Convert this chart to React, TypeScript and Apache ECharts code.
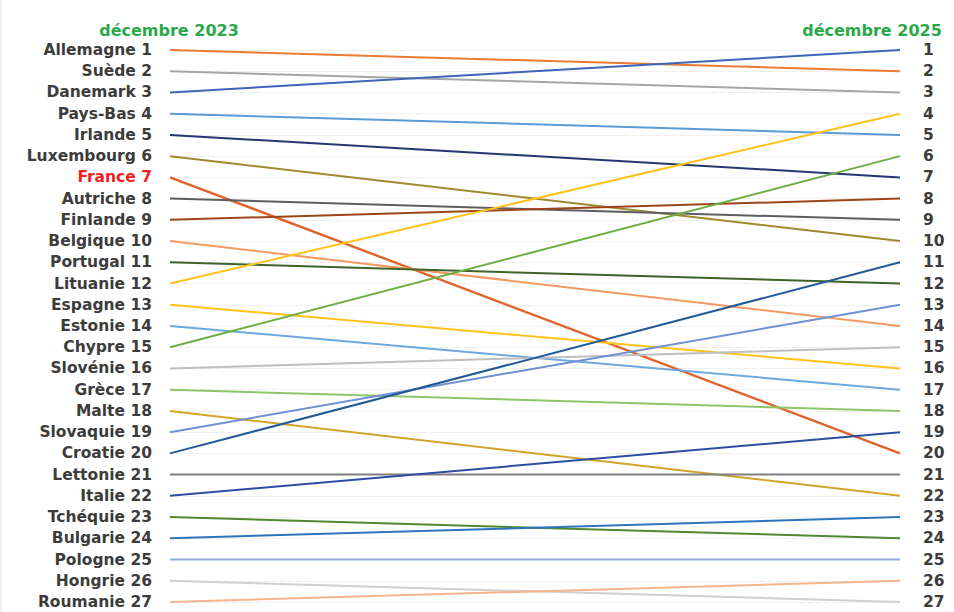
import React, { useEffect, useRef } from "react";
import * as echarts from "echarts";

const countries = [
  "Allemagne", "Suède", "Danemark", "Pays-Bas", "Irlande", "Luxembourg", "France",
  "Autriche", "Finlande", "Belgique", "Portugal", "Lituanie", "Espagne", "Estonie",
  "Chypre", "Slovénie", "Grèce", "Malte", "Slovaquie", "Croatie", "Lettonie",
  "Italie", "Tchéquie", "Bulgarie", "Pologne", "Hongrie", "Roumanie",
];
const rank2023 = [1, 2, 3, 4, 5, 6, 7, 8, 9, 10, 11, 12, 13, 14, 15, 16, 17, 18, 19, 20, 21, 22, 23, 24, 25, 26, 27];
const rank2025 = [2, 3, 1, 5, 7, 10, 20, 9, 8, 14, 12, 4, 16, 17, 6, 15, 18, 22, 13, 11, 21, 19, 24, 23, 25, 27, 26];
const lineColors = [
  "#EB7A34", "#A6A6A6", "#3F64B8", "#5B9BD5", "#22386E", "#A08A30", "#E0632C",
  "#5E5E5E", "#9C4519", "#F29A62", "#3F6329", "#FFC21A", "#FFC21A", "#6FA8DC",
  "#6DAE45", "#BFBFBF", "#8DC66A", "#D2A42C", "#6F91D4", "#245B95", "#7F7F7F",
  "#2D4DA2", "#4F8732", "#2E74BA", "#8FAADC", "#CFCFCF", "#F6B48C",
];
const periods = ["décembre 2023", "décembre 2025"];
const highlight = "France";

export default function App() {
  const ref = useRef<HTMLDivElement>(null);
  useEffect(() => {
    if (!ref.current) return;
    const chart = echarts.init(ref.current, null, { renderer: "svg" });
    const font = "'DejaVu Sans', Verdana, sans-serif";
    const fs = 15.5;
    const series = countries.map((c, i) => ({
      type: "line",
      name: c,
      data: [[0, rank2023[i]], [1, rank2025[i]]],
      symbol: "none",
      lineStyle: { color: lineColors[i], width: c === highlight ? 2.4 : 2 },
      z: 3,
    }));
    chart.setOption({
      animation: false,
      backgroundColor: "#ffffff",
      grid: { left: 170, right: 54, top: 50, bottom: 10 },
      xAxis: { type: "value", min: 0, max: 1, show: false },
      yAxis: [
        {
          type: "value",
          inverse: true,
          min: 1,
          max: 27,
          interval: 1,
          position: "left",
          axisLine: { show: false },
          axisTick: { show: false },
          splitLine: { show: true, lineStyle: { color: "#E2E2E2", type: "dotted", width: 1 } },
          axisLabel: {
            margin: 18,
            fontFamily: font,
            fontSize: fs,
            fontWeight: "bold",
            color: "#3C3C3C",
            formatter: (v: number) => {
              const idx = rank2023.indexOf(v);
              const name = countries[idx];
              return name === highlight ? `{hl|${name} ${v}}` : `${name} ${v}`;
            },
            rich: {
              hl: { color: "#F21F1F", fontFamily: font, fontSize: fs, fontWeight: "bold" },
            },
          },
        },
        {
          type: "value",
          inverse: true,
          min: 1,
          max: 27,
          interval: 1,
          position: "right",
          axisLine: { show: false },
          axisTick: { show: false },
          splitLine: { show: false },
          axisLabel: {
            margin: 23,
            align: "left",
            fontFamily: font,
            fontSize: fs,
            fontWeight: "bold",
            color: "#3C3C3C",
            formatter: (v: number) => `${v}`,
          },
        },
      ],
      graphic: [
        {
          type: "text",
          x: 169,
          y: 30,
          style: {
            text: periods[0],
            fill: "#2BA84A",
            font: `bold 16px ${font}`,
            textAlign: "center",
            textVerticalAlign: "middle",
          },
        },
        {
          type: "text",
          x: 872,
          y: 30,
          style: {
            text: periods[1],
            fill: "#2BA84A",
            font: `bold 16px ${font}`,
            textAlign: "center",
            textVerticalAlign: "middle",
          },
        },
        {
          type: "line",
          shape: { x1: 1, y1: 0, x2: 1, y2: 612 },
          style: { stroke: "#DDDDDD", lineWidth: 1 },
        },
      ],
      series,
    });
    return () => chart.dispose();
  }, []);
  return (
    <div
      ref={ref}
      style={{ position: "fixed", left: 0, top: 0, width: 954, height: 612 }}
    />
  );
}
